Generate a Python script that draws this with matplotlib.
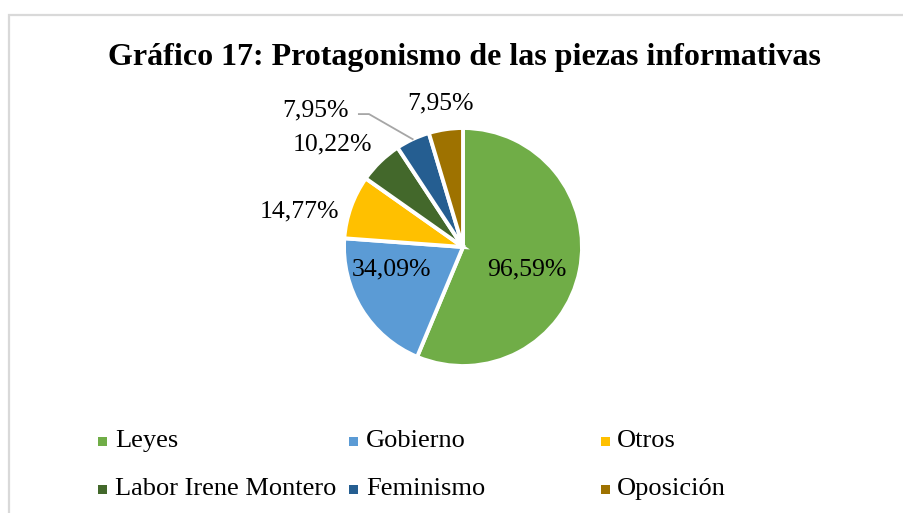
import matplotlib
matplotlib.use("Agg")
import matplotlib.pyplot as plt
from matplotlib.patches import Rectangle
import numpy as np

categories = ["Leyes", "Gobierno", "Otros", "Labor Irene Montero", "Feminismo", "Oposición"]
values = [96.59, 34.09, 14.77, 10.22, 7.95, 7.95]
value_labels = ["96,59%", "34,09%", "14,77%", "10,22%", "7,95%", "7,95%"]
colors = ["#70AD47", "#5B9BD5", "#FFC000", "#43682B", "#255E91", "#9E7200"]
title = "Gráfico 17: Protagonismo de las piezas informativas"

plt.rcParams['font.family'] = ['Liberation Serif', 'DejaVu Serif']

W, H = 904, 513
fig = plt.figure(figsize=(W / 100, H / 100), dpi=100)

# border
fig.patches.append(Rectangle((8.5 / W, -0.1), 1.2, (H - 15) / H + 0.1, transform=fig.transFigure,
                             fill=False, edgecolor="#D9D9D9", linewidth=1.6))

cx, cy, R = 463, 247, 119
ax = fig.add_axes([(cx - 2 * R) / W, (H - cy - 2 * R) / H, 4 * R / W, 4 * R / H])
ax.axis("off")

wedges, _ = ax.pie(values, colors=colors, startangle=90, counterclock=False, radius=1,
                   wedgeprops=dict(edgecolor="white", linewidth=2.8))
ax.set_xlim(-2, 2)
ax.set_ylim(-2, 2)
ax.set_aspect("equal")

fs = 18.5
# label placement (layout positions in pie-radius units)
label_pos = [(0.54, -0.19, "center"), (-0.60, -0.19, "center"), (-1.04, 0.30, "right"),
             (-0.76, 0.86, "right"), (-0.96, 1.15, "right"), (-0.19, 1.21, "center")]
for i, w in enumerate(wedges):
    x, y, ha = label_pos[i]
    ax.text(x, y, value_labels[i], ha=ha, va="center", fontsize=fs, color="black")

# leader line for Feminismo
w = wedges[4]
mid = np.deg2rad((w.theta1 + w.theta2) / 2)
ax.plot([-0.875, -0.79, 1.0 * np.cos(mid)], [1.117, 1.117, 1.0 * np.sin(mid)],
        color="#A6A6A6", lw=1.3, clip_on=False)

fig.text(464 / W, 1 - 57 / H, title, ha="center", va="center", fontsize=23, fontweight="bold")

# legend
col_x = [103, 354, 605]
row_y = [441, 489]
for i, (cat, col) in enumerate(zip(categories, colors)):
    r, c = divmod(i, 3)
    x0, y0 = col_x[c], row_y[r]
    fig.patches.append(Rectangle(((x0 - 4.5) / W, 1 - (y0 + 4.5) / H), 9 / W, 9 / H,
                                 transform=fig.transFigure, facecolor=col, edgecolor="none"))
    fig.text((x0 + 12) / W, 1 - y0 / H, cat, ha="left", va="center", fontsize=19)

fig.savefig("out.png", dpi=100)
